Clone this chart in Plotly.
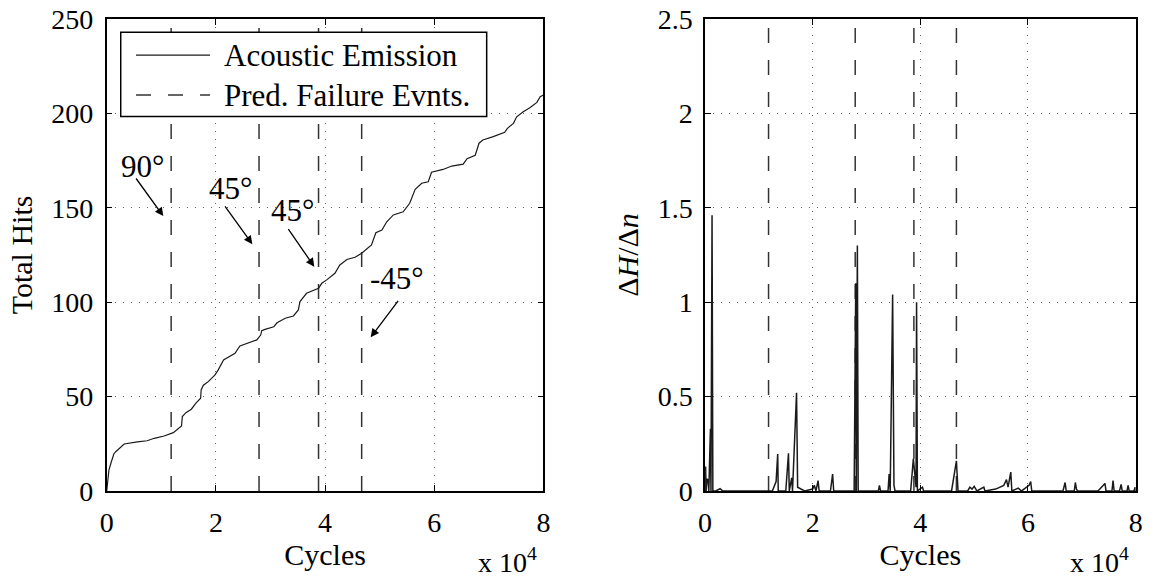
import plotly.graph_objects as go

# ---------------- data ----------------
# Left panel: cumulative acoustic-emission hits (cycles in units of 1e4)
ae_cycles_e4 = [0, 0.01, 0.04, 0.085, 0.13, 0.165, 0.225, 0.32, 0.56, 0.74, 0.87, 1.05,
                1.22, 1.37, 1.385, 1.45, 1.55, 1.63, 1.72, 1.73, 1.77, 1.86, 1.98, 2.04,
                2.14, 2.35, 2.44, 2.59, 2.75, 2.82, 2.84, 2.90, 3.06, 3.12, 3.27, 3.42,
                3.51, 3.54, 3.66, 3.88, 3.94, 4.03, 4.18, 4.27, 4.40, 4.55, 4.67, 4.85,
                4.93, 5.04, 5.13, 5.25, 5.43, 5.55, 5.65, 5.77, 5.89, 5.95, 6.16, 6.32,
                6.53, 6.60, 6.75, 6.82, 6.89, 7.08, 7.29, 7.34, 7.45, 7.51, 7.63, 7.75,
                7.88, 7.94, 8.0]
ae_hits = [0, 2.3, 11, 15.5, 19.6, 20.8, 22.4, 24.9, 26, 26.6, 27.9, 29.1,
           30.9, 34.4, 39.4, 41.5, 43.3, 46.4, 49.1, 53.5, 56, 57.9, 61.4, 64,
           69.4, 72.9, 76.8, 78.2, 80, 82.6, 84.9, 85.6, 87, 89.1, 91.5, 92.7,
           95.9, 100.3, 104.7, 107.4, 110, 111.8, 115.3, 119.7, 122.6, 123.8, 125.9, 130.3,
           136.8, 138.2, 142.6, 146.2, 147.9, 152.4, 159.8, 163, 163.8, 168.8, 170.3, 172.1,
           173.1, 176, 177.8, 184.2, 185.9, 187.7, 190, 192.1, 194.7, 198.2, 200.9, 203,
           205.8, 208.8, 209.7]

# Right panel: hit rate dH/dn
rate_cycles_e4 = [0.00, 0.01, 0.02, 0.03, 0.05, 0.07, 0.10, 0.11, 0.13, 0.145, 0.20, 0.28, 0.33,
                  1.25, 1.32, 1.35, 1.36, 1.50, 1.55, 1.565, 1.61, 1.625, 1.70, 1.72, 1.85,
                  2.00, 2.03, 2.06, 2.10, 2.12, 2.33, 2.37, 2.39, 2.77, 2.80, 2.81, 2.83, 2.845,
                  3.22, 3.24, 3.26, 3.40, 3.42, 3.44, 3.485, 3.51, 3.53, 3.82, 3.87, 3.92, 3.93, 3.945,
                  4.04, 4.06, 4.58, 4.67, 4.70, 4.88, 4.92, 4.96, 5.00, 5.05, 5.18, 5.20,
                  5.40, 5.55, 5.60, 5.63, 5.68, 5.70, 5.82, 5.88, 6.02, 6.05, 6.07,
                  6.65, 6.69, 6.71, 6.86, 6.88, 6.90, 6.92, 7.30, 7.43, 7.45, 7.56, 7.58, 7.60,
                  7.70, 7.73, 7.75, 7.84, 7.86, 7.88, 7.97, 7.99, 8.0]
rate_values = [0, 0.13, 0.0, 0.065, 0.06, 0.0, 0.33, 0, 1.46, 0.0, 0.0, 0.012, 0,
               0, 0.05, 0.196, 0, 0, 0.20, 0, 0.07, 0, 0.52, 0.02, 0.0,
               0.01, 0.03, 0.0, 0.055, 0.0, 0, 0.09, 0, 0, 1.10, 0, 1.30, 0,
               0, 0.03, 0, 0, 0.09, 0, 1.04, 0.03, 0, 0, 0.17, 0.02, 1.0, 0,
               0.02, 0, 0, 0.16, 0, 0, 0.02, 0.01, 0.025, 0,
               0.02, 0, 0.01, 0.03, 0.06, 0.02, 0.10, 0, 0.015, 0, 0.03, 0.05, 0,
               0, 0.045, 0, 0, 0.045, 0.01, 0, 0, 0.04, 0, 0, 0.055, 0,
               0, 0.035, 0, 0, 0.03, 0, 0, 0.02, 0]

# Predicted failure events (cycles in units of 1e4)
failure_cycles_e4 = [1.18, 2.79, 3.88, 4.67]
failure_labels = ["90°", "45°", "45°", "-45°"]

x_tick_vals_e4 = [0, 2, 4, 6, 8]
left_y_ticks = [0, 50, 100, 150, 200, 250]
right_y_ticks = [0, 0.5, 1, 1.5, 2, 2.5]

SCALE = 1e4
FONT = "Liberation Serif"
INK = "#1a1a1a"

ae_x = [v * SCALE for v in ae_cycles_e4]
rate_x = [v * SCALE for v in rate_cycles_e4]


def vlines(xs, y0, y1):
    vx, vy = [], []
    for v in xs:
        vx += [v * SCALE, v * SCALE, None]
        vy += [y0, y1, None]
    return vx, vy


fig = go.Figure()

# Left panel
fx, fy = vlines(failure_cycles_e4, 0, 250)
fig.add_trace(go.Scatter(x=fx, y=fy, mode="lines", xaxis="x", yaxis="y",
                         line=dict(color="#333333", width=1.5, dash="15px,17px"),
                         name="Pred. Failure Evnts.", showlegend=False))
fig.add_trace(go.Scatter(x=ae_x, y=ae_hits, mode="lines", xaxis="x", yaxis="y",
                         line=dict(color=INK, width=1.2),
                         name="Acoustic Emission", showlegend=False))

# Right panel
fx2, fy2 = vlines(failure_cycles_e4, 0, 2.5)
fig.add_trace(go.Scatter(x=fx2, y=fy2, mode="lines", xaxis="x2", yaxis="y2",
                         line=dict(color="#333333", width=1.5, dash="15px,17px"),
                         showlegend=False))
fig.add_trace(go.Scatter(x=rate_x, y=rate_values, mode="lines", xaxis="x2", yaxis="y2",
                         line=dict(color=INK, width=1.5),
                         showlegend=False))

axis_common = dict(
    showline=True, linecolor="black", linewidth=1.5, mirror="ticks",
    ticks="inside", ticklen=6, tickcolor="black", tickwidth=1,
    showgrid=True, gridcolor="#666666", gridwidth=1, griddash="1px,7px",
    zeroline=False, tickfont=dict(family=FONT, size=28, color="black"),
    automargin=False,
)

xt = [v * SCALE for v in x_tick_vals_e4]
xtt = [str(v) for v in x_tick_vals_e4]

fig.update_layout(
    width=1160, height=582,
    margin=dict(l=0, r=0, t=0, b=0),
    paper_bgcolor="white", plot_bgcolor="white",
    showlegend=False,
    font=dict(family=FONT, color="black"),
    xaxis=dict(axis_common, domain=[0.092, 0.4685], range=[0, 80000],
               tickvals=xt, ticktext=xtt, anchor="y", ticklabelstandoff=6,
               title=dict(text="Cycles", font=dict(family=FONT, size=30), standoff=0)),
    yaxis=dict(axis_common, domain=[0.1564, 0.9674], range=[0, 250],
               tickvals=left_y_ticks, anchor="x", ticklabelstandoff=6,
               title=dict(text="Total Hits", font=dict(family=FONT, size=30), standoff=10)),
    xaxis2=dict(axis_common, domain=[0.6078, 0.979], range=[0, 80000],
                tickvals=xt, ticktext=xtt, anchor="y2", ticklabelstandoff=6,
                title=dict(text="Cycles", font=dict(family=FONT, size=30), standoff=0)),
    yaxis2=dict(axis_common, domain=[0.1564, 0.9674], range=[0, 2.5],
                tickvals=right_y_ticks, ticktext=["0", "0.5", "1", "1.5", "2", "2.5"],
                anchor="x2", ticklabelstandoff=5,
                title=dict(text="Δ<i>H</i>/Δ<i>n</i>", font=dict(family=FONT, size=30), standoff=10)),
)

# Manual legend (box + samples + text) inside left panel
fig.add_shape(type="rect", xref="x", yref="y", x0=2564, x1=69600, y0=198.3, y1=243,
              line=dict(color="black", width=1.5), fillcolor="white", layer="above")
fig.add_shape(type="line", xref="x", yref="y", x0=5370, x1=18920, y0=230.9, y1=230.9,
              line=dict(color=INK, width=1.2), layer="above")
fig.add_shape(type="line", xref="x", yref="y", x0=5370, x1=18920, y0=209.7, y1=209.7,
              line=dict(color="#333333", width=1.5, dash="15px,17px"), layer="above")
fig.add_annotation(xref="x", yref="y", x=21060, y=230.9, text="Acoustic Emission",
                   showarrow=False, xanchor="left", yanchor="middle",
                   font=dict(family=FONT, size=31, color="black"))
fig.add_annotation(xref="x", yref="y", x=21060, y=209.7, text="Pred. Failure Evnts.",
                   showarrow=False, xanchor="left", yanchor="middle",
                   font=dict(family=FONT, size=31, color="black"))

# Ply-angle labels and their arrows
label_pos = [(6560, 172.1), (22670, 160.2), (34030, 148.8), (53110, 112.7)]
arrows = [((5180, 166.3), (10370, 145.6)),
          ((21480, 151.5), (26670, 130.7)),
          ((33080, 139.5), (38020, 118.8)),
          ((53590, 101.5), (48350, 81.4))]
for txt, (lx, ly), ((tx, ty), (hx, hy)) in zip(failure_labels, label_pos, arrows):
    fig.add_annotation(xref="x", yref="y", x=lx, y=ly, text=txt, showarrow=False,
                       xanchor="center", yanchor="middle",
                       font=dict(family=FONT, size=31, color="black"))
    fig.add_annotation(xref="x", yref="y", axref="x", ayref="y",
                       x=hx, y=hy, ax=tx, ay=ty, text="", showarrow=True,
                       arrowhead=2, arrowsize=1.3, arrowwidth=1.3, arrowcolor="black")

# Exponent labels
for xr in ["x domain", "x2 domain"]:
    fig.add_annotation(xref=xr, yref="paper", x=0.99, y=0.0, text="x 10<sup>4</sup>",
                       showarrow=False, xanchor="right", yanchor="bottom", yshift=2,
                       font=dict(family=FONT, size=28, color="black"))

fig.write_html("out.html")
